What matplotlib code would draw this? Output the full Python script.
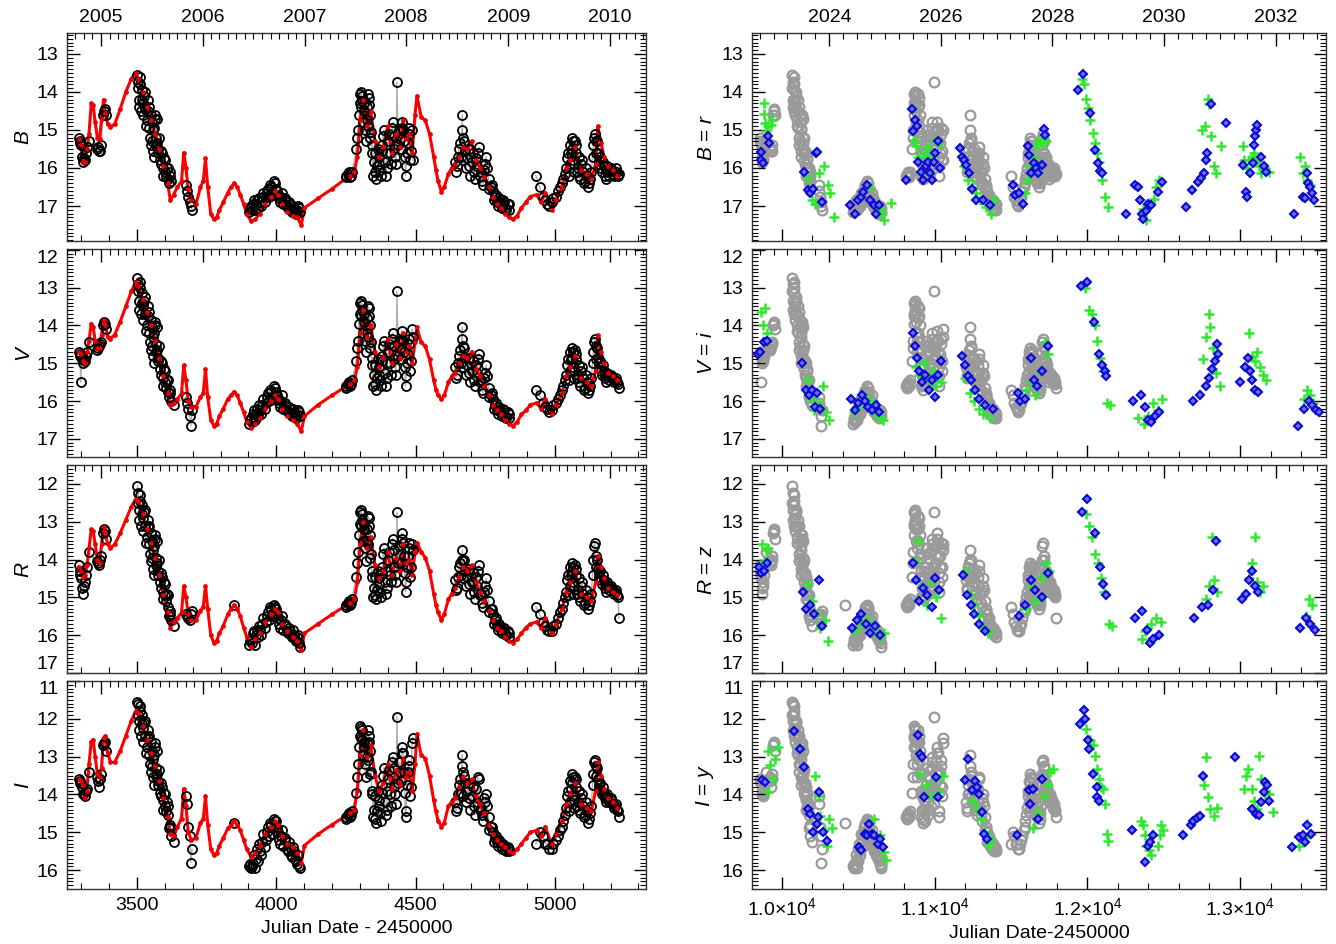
import numpy as np
import matplotlib
matplotlib.use("Agg")
import matplotlib.pyplot as plt
from matplotlib.ticker import MultipleLocator, FixedLocator, FixedFormatter, NullFormatter

plt.rcParams['font.family'] = ['Liberation Sans', 'DejaVu Sans']
plt.rcParams['mathtext.fontset'] = 'custom'
plt.rcParams['mathtext.rm'] = 'Liberation Sans'
plt.rcParams['mathtext.it'] = 'Liberation Sans:italic'

nan = np.nan

# ---------------- model light curve (red) : JD-2450000 and magnitudes ----------------
model_jd = [3291, 3298, 3306, 3313, 3321, 3328, 3336, 3343, 3350, 3358, 3366, 3373, 3380, 3387, 3395, 3405,
            3420, 3440, 3460, 3480, 3495, 3505, 3520, 3535, 3550, 3565, 3580, 3595, 3610, 3620, 3632, 3645,
            3660, 3668, 3676, 3684, 3695, 3712, 3728, 3738, 3746, 3754, 3765, 3776, 3796, 3826, 3849, 3871,
            3894, 3910, 3925, 3940, 3960, 3980, 3995, 4007, 4020, 4040, 4060, 4075, 4090, 4101, 4150, 4200,
            4264, 4280, 4291, 4301, 4312, 4324, 4339, 4354, 4369, 4384, 4400, 4415, 4430, 4445, 4455, 4465,
            4475, 4488, 4498, 4505, 4520, 4535, 4550, 4565, 4581, 4593, 4603, 4618, 4641, 4656, 4671, 4686,
            4701, 4716, 4731, 4746, 4762, 4777, 4792, 4807, 4822, 4837, 4850, 4880, 4912, 4935, 4950, 4965,
            4988, 5003, 5026, 5041, 5056, 5071, 5094, 5116, 5131, 5146, 5154, 5166, 5176, 5191, 5207, 5222,
            3786, 3810, 3838, 3860, 3883, 4865, 4896, 4573, 4630]
model_B = [15.25, 15.40, 15.85, 15.85, 15.50, 15.10, 14.30, 14.35, 14.80, 15.20, 15.25, 14.70, 14.20, 14.55, 14.85, 14.92,
           14.85, 14.45, 14.00, 13.65, 13.50, 13.65, 14.00, 14.40, 14.75, 15.10, 15.50, 15.95, 16.40, 16.85, 16.70, 16.50,
           16.35, 15.60, 16.00, 16.55, 16.85, 16.95, 16.50, 16.35, 15.75, 16.50, 17.20, 17.35, 17.10, 16.65, 16.40, 16.70,
           17.20, 17.40, 17.35, 17.20, 16.95, 16.75, 16.60, 16.70, 16.95, 17.15, 17.25, 17.30, 17.50, 17.05, 16.80, 16.55,
           16.20, 16.10, 15.70, 14.75, 14.20, 14.90, 14.50, 15.30, 15.70, 15.45, 14.90, 15.60, 15.10, 15.45, 14.75, 15.25,
           15.10, 15.60, 14.60, 14.10, 14.65, 14.75, 15.10, 15.70, 16.35, 16.63, 16.50, 16.15, 15.90, 15.70, 15.45, 15.50,
           15.30, 15.80, 16.00, 16.25, 16.50, 16.75, 16.95, 17.05, 17.20, 17.30, 17.35, 17.05, 16.75, 16.70, 16.90, 16.65,
           17.10, 16.85, 16.50, 16.00, 15.80, 15.45, 16.05, 16.15, 16.30, 15.90, 14.90, 15.35, 15.70, 15.95, 16.05, 16.20,
           17.30, 16.90, 16.50, 16.50, 16.95, 17.25, 16.90, 16.05, 16.00]
model_V = [14.70, 14.75, 14.95, 15.00, 14.70, 14.40, 13.95, 14.05, 14.40, 14.60, 14.60, 14.25, 13.85, 14.00, 14.30, 14.35,
           14.25, 13.90, 13.50, 13.10, 12.85, 12.95, 13.30, 13.65, 14.00, 14.40, 14.85, 15.35, 15.80, 16.10, 16.05, 15.95,
           15.80, 15.05, 15.45, 16.00, 16.15, 16.15, 15.90, 15.80, 15.15, 15.90, 16.50, 16.65, 16.40, 15.95, 15.75, 16.05,
           16.55, 16.70, 16.60, 16.45, 16.20, 16.00, 15.85, 15.95, 16.20, 16.40, 16.50, 16.60, 16.80, 16.40, 16.10, 15.85,
           15.55, 15.45, 15.10, 14.20, 13.60, 14.30, 14.00, 14.70, 15.10, 14.85, 14.35, 15.00, 14.50, 14.85, 14.20, 14.70,
           14.55, 15.00, 14.45, 14.05, 14.45, 14.55, 14.90, 15.45, 15.85, 15.95, 15.85, 15.50, 15.25, 15.00, 14.80, 14.85,
           14.70, 15.15, 15.35, 15.60, 15.85, 16.10, 16.25, 16.35, 16.50, 16.60, 16.65, 16.35, 16.10, 16.05, 16.20, 15.95,
           16.35, 16.10, 15.80, 15.35, 15.10, 14.80, 15.40, 15.50, 15.60, 15.20, 14.25, 14.70, 15.00, 15.25, 15.35, 15.45,
           16.60, 16.20, 15.85, 15.85, 16.30, 16.55, 16.25, 15.70, 15.35]
model_R = [14.20, 14.30, 14.45, 14.40, 14.15, 13.70, 13.20, 13.25, 13.60, 14.00, 14.10, 13.60, 13.15, 13.30, 13.60, 13.70,
           13.60, 13.30, 12.95, 12.60, 12.40, 12.45, 12.80, 13.20, 13.55, 13.95, 14.40, 14.95, 15.40, 15.80, 15.65, 15.55,
           15.40, 14.70, 15.00, 15.45, 15.60, 15.60, 15.35, 15.25, 14.70, 15.30, 16.00, 16.20, 15.95, 15.45, 15.20, 15.50,
           16.05, 16.30, 16.10, 15.95, 15.65, 15.45, 15.30, 15.40, 15.70, 15.90, 16.05, 16.15, 16.40, 15.95, 15.70, 15.45,
           15.15, 15.05, 14.60, 13.60, 13.00, 13.70, 13.40, 14.15, 14.50, 14.30, 13.80, 14.40, 13.95, 14.30, 13.60, 14.10,
           14.00, 14.40, 13.80, 13.55, 13.80, 13.95, 14.30, 14.90, 15.40, 15.60, 15.45, 15.05, 14.75, 14.45, 14.20, 14.30,
           14.15, 14.60, 14.85, 15.10, 15.35, 15.60, 15.80, 15.90, 16.05, 16.15, 16.20, 15.95, 15.70, 15.65, 15.80, 15.55,
           15.95, 15.70, 15.30, 14.85, 14.60, 14.30, 14.90, 15.00, 15.10, 14.60, 13.90, 14.20, 14.50, 14.75, 14.85, 14.95,
           16.15, 15.75, 15.30, 15.30, 15.80, 16.10, 15.80, 15.20, 14.90]
model_I = [13.60, 13.65, 13.75, 14.10, 13.90, 13.20, 12.60, 12.55, 13.00, 13.45, 13.55, 13.30, 12.50, 12.45, 12.90, 13.15,
           13.15, 12.85, 12.45, 12.05, 11.80, 11.85, 12.20, 12.55, 12.90, 13.25, 13.65, 14.10, 14.60, 15.05, 15.10, 14.85,
           14.65, 13.85, 14.30, 15.00, 15.20, 15.15, 14.75, 14.65, 14.05, 14.80, 15.45, 15.60, 15.35, 14.90, 14.70, 14.95,
           15.45, 15.65, 15.55, 15.35, 15.05, 14.85, 14.70, 14.80, 15.10, 15.30, 15.40, 15.55, 15.80, 15.35, 15.05, 14.80,
           14.50, 14.40, 13.90, 12.95, 12.30, 13.00, 12.70, 13.50, 13.90, 13.70, 13.20, 13.85, 13.35, 13.75, 13.05, 13.55,
           13.40, 13.90, 13.20, 12.40, 12.95, 13.05, 13.50, 14.15, 14.70, 14.85, 14.75, 14.30, 14.10, 13.80, 13.55, 13.70,
           13.60, 14.05, 14.25, 14.50, 14.80, 15.05, 15.20, 15.30, 15.40, 15.50, 15.55, 15.30, 15.00, 14.95, 15.10, 14.85,
           15.30, 15.05, 14.70, 14.25, 14.00, 13.70, 14.25, 14.35, 14.45, 13.90, 13.15, 13.50, 13.85, 14.10, 14.20, 14.35,
           15.55, 15.15, 14.80, 14.80, 15.20, 15.45, 15.15, 14.45, 14.20]

# ---------------- observed light curve (black circles, grey on the right) ----------------
obs_jd = [3291, 3294, 3298, 3302, 3306, 3313, 3320, 3328,
          3356, 3363, 3371, 3378, 3384, 3389,
          3502, 3505, 3509, 3512, 3517, 3520, 3525, 3530, 3535, 3540, 3543, 3547, 3551, 3555, 3558, 3562,
          3566, 3570, 3573, 3577, 3582, 3587, 3592, 3597, 3602, 3607, 3612, 3617, 3622, 3632,
          3675, 3680, 3683, 3690, 3694, 3698,
          3849,
          3902, 3909, 3917, 3924, 3932, 3939, 3947, 3954, 3962, 3970, 3977, 3985, 3992, 4000, 4007, 4015,
          4022, 4030, 4037, 4045, 4053, 4060, 4068, 4075, 4083,
          4249, 4256, 4264, 4272, 4287, 4291, 4297, 4301, 4305, 4309, 4314, 4318, 4324, 4328, 4332, 4336,
          4341, 4345, 4350, 4356, 4361, 4367, 4373, 4378, 4384, 4390, 4396, 4402, 4408, 4415, 4421, 4427,
          4433, 4438, 4444, 4450, 4456, 4461, 4466, 4472, 4478, 4484, 4490,
          4641, 4648, 4656, 4663, 4668, 4672, 4678, 4686, 4693, 4701, 4708, 4716, 4723, 4731, 4738, 4746,
          4753, 4762, 4769, 4777, 4785, 4792, 4800, 4807, 4815, 4822, 4830, 4837,
          4932, 4958, 4973, 4988, 5003, 5018, 5030, 5041, 5048, 5053, 5056, 5060, 5064, 5068, 5071, 5076,
          5082, 5088, 5094, 5101, 5108, 5116, 5124, 5131, 5138, 5143, 5148, 5154, 5160, 5166, 5172, 5179,
          5185, 5191, 5200, 5207, 5215, 5222, 5230]
obs_B = [15.20, 15.30, 15.40, 15.70, 15.85, 15.80, 15.45, 15.30,
         15.50, 15.55, 15.40, 14.60, 14.45, 14.60,
         13.55, 13.75, 14.20, 13.60, 13.95, 14.30, 14.10, 14.45, 14.75, 14.20, 14.95, 15.20, 14.60, 15.30, 15.55, 14.95,
         14.60, 15.20, 15.35, 15.60, 15.80, 15.55, 16.00, 15.75, 16.10, 16.00, 16.30, 16.20, 16.35, nan,
         16.45, 16.60, 16.75, 16.90, 17.00, 17.10,
         nan,
         17.15, 17.00, 16.95, 17.10, 16.85, 16.80, 17.00, 16.65, 16.75, 16.55, 16.45, 16.65, 16.35, 16.55, 16.70, 16.90,
         16.65, 16.85, 17.00, 16.90, 17.10, 17.00, 17.15, 17.10, 17.05,
         16.20, 16.15, 16.25, 16.10, 15.50, 15.20, 14.60, 14.05, 14.00, 14.25, 14.50, 15.00, 14.75, 14.05, 14.15, 14.60,
         15.05, 15.40, 15.85, 16.10, 15.95, 15.70, 16.05, 15.55, 15.15, 15.85, 16.00, 15.30, 15.60, 14.95, 15.15, 15.70,
         13.75, 15.40, 15.25, 14.80, 15.00, 15.70, 15.95, 15.35, 15.10, 15.55, 15.80,
         15.85, 15.95, 15.50, 15.70, 14.60, 15.20, 15.55, 15.75, 15.95, 15.85, 16.10, 15.75, 15.60, 16.20, 16.35, 16.05,
         15.70, 16.30, 16.50, 16.60, 16.75, 16.90, 16.80, 16.95, 16.85, 17.05, 16.95, 17.10,
         16.20, 16.75, 16.95, 16.90, 16.75, 16.50, 16.30, 16.00, 15.60, 15.90, 15.40, 15.20, 15.80, 16.10, 15.30, 15.60,
         16.00, 16.20, 15.90, 16.10, 16.35, 16.20, 16.40, 16.10, 15.40, 15.10, 15.30, 15.60, 15.90, 16.00, 15.85, 16.20,
         16.05, 16.10, 16.00, 16.15, 16.10, 16.10, 16.15]
obs_V = [14.70, 14.75, 15.50, 14.90, 15.00, 14.95, 14.70, 14.45,
         14.65, 14.55, 14.45, 14.00, 13.95, 14.10,
         12.75, 12.90, 13.35, 12.85, 13.15, 13.50, 13.35, 13.70, 14.00, 13.50, 14.20, 14.45, 13.85, 14.55, 14.80, 14.20,
         13.90, 14.50, 14.65, 14.95, 15.15, 14.95, 15.40, 15.15, 15.50, 15.45, 15.75, 15.80, 16.00, 16.10,
         15.90, 16.05, 16.20, 16.40, 16.65, 16.25,
         nan,
         16.60, 16.45, 16.35, 16.50, 16.20, 16.10, 16.35, 15.95, 16.05, 15.80, 15.70, 15.90, 15.60, 15.75, 15.95, 16.15,
         15.85, 16.10, 16.25, 16.15, 16.35, 16.20, 16.40, 16.35, 16.30,
         15.60, 15.55, 15.60, 15.45, 14.95, 14.60, 13.95, 13.40, 13.35, 13.60, 13.90, 14.40, 14.20, 13.50, 13.55, 14.00,
         14.45, 14.85, 15.30, 15.55, 15.40, 15.10, 15.45, 14.95, 14.55, 15.25, 15.40, 14.70, 15.00, 14.35, 14.55, 15.10,
         13.10, 14.80, 14.60, 14.15, 14.40, 15.10, 15.35, 14.75, 14.50, 14.95, 14.30,
         15.10, 15.30, 14.80, 15.00, 14.05, 14.55, 14.85, 15.05, 15.25, 15.20, 15.45, 15.05, 14.90, 15.50, 15.70, 15.40,
         15.05, 15.65, 15.85, 15.95, 16.10, 16.25, 16.15, 16.30, 16.20, 16.40, 16.30, 16.45,
         15.70, 16.05, 16.20, 16.25, 16.05, 15.85, 15.60, 15.30, 14.90, 15.20, 14.70, 14.60, 15.10, 15.40, 14.65, 14.90,
         15.30, 15.50, 15.20, 15.40, 15.65, 15.50, 15.70, 15.40, 14.70, 14.35, 14.55, 14.85, 15.10, 15.20, 15.05, 15.40,
         15.30, 15.35, 15.30, 15.40, 15.45, 15.50, 15.65]
obs_R = [14.15, 14.30, 14.50, 14.75, 14.90, 14.60, 14.20, 13.80,
         14.05, 14.15, 13.90, 13.30, 13.25, 13.45,
         12.05, 12.25, 12.70, 12.30, 12.55, 12.90, 12.75, 13.10, 13.40, 12.95, 13.60, 13.85, 13.30, 13.95, 14.25, 13.65,
         13.35, 13.95, 14.10, 14.40, 14.60, 14.35, 14.85, 14.60, 14.95, 14.90, 15.25, 15.45, 15.60, 15.75,
         15.45, 15.50, 15.55, 15.60, 15.45, 15.35,
         15.20,
         16.25, 16.10, 15.95, 16.25, 15.85, 15.75, 16.00, 15.55, 15.65, 15.40, 15.25, 15.45, 15.20, 15.30, 15.55, 15.80,
         15.50, 15.75, 15.90, 15.80, 16.00, 15.85, 16.10, 16.05, 16.20,
         15.20, 15.15, 15.20, 15.05, 14.45, 14.10, 13.35, 12.75, 12.70, 12.95, 13.20, 13.70, 13.50, 12.85, 12.90, 13.35,
         13.85, 14.30, 14.75, 14.95, 14.80, 14.50, 14.85, 14.35, 13.85, 14.60, 14.75, 14.00, 14.40, 13.60, 13.75, 14.40,
         12.75, 14.10, 13.85, 13.30, 13.55, 14.35, 14.60, 13.90, 13.70, 14.20, 13.75,
         14.55, 14.75, 14.20, 14.40, 13.75, 14.05, 14.30, 14.45, 14.65, 14.60, 14.85, 14.45, 14.30, 14.95, 15.15, 14.85,
         14.50, 15.10, 15.30, 15.45, 15.60, 15.75, 15.70, 15.85, 15.80, 15.95, 15.90, 16.05,
         15.25, 15.65, 15.85, 15.90, 15.70, 15.40, 15.15, 14.85, 14.40, 14.70, 14.20, 14.10, 14.60, 14.90, 14.15, 14.40,
         14.80, 15.00, 14.70, 14.90, 15.15, 15.00, 15.20, 14.90, 14.00, 13.55, 13.90, 14.25, 14.45, 14.55, 14.40, 14.75,
         14.65, 14.70, 14.70, 14.80, 14.85, 14.95, 15.55]
obs_I = [13.60, 13.65, 13.70, 13.80, 14.00, 14.05, 13.85, 13.40,
         13.55, 13.80, 13.45, 12.70, 12.60, 12.85,
         11.55, 11.60, 12.05, 11.65, 11.90, 12.25, 12.10, 12.45, 12.75, 12.30, 12.95, 13.20, 12.60, 13.25, 13.55, 12.95,
         12.65, 13.30, 13.45, 13.75, 13.95, 13.70, 14.15, 13.95, 14.30, 14.20, 14.55, 14.85, 15.10, 15.25,
         14.05, 14.25, 14.85, 15.10, 15.80, 15.45,
         14.75,
         15.90, 15.95, 15.85, 15.95, 15.45, 15.30, 15.60, 15.05, 15.20, 14.85, 14.75, 15.05, 14.65, 14.70, 15.00, 15.30,
         14.95, 15.20, 15.45, 15.25, 15.60, 15.40, 15.70, 15.85, 15.90,
         14.60, 14.55, 14.60, 14.45, 13.95, 13.55, 12.75, 12.20, 12.25, 12.55, 12.75, 13.20, 13.00, 12.30, 12.45, 12.85,
         13.40, 13.90, 14.40, 14.65, 14.45, 14.15, 14.50, 13.95, 13.50, 14.20, 14.40, 13.60, 14.00, 13.15, 13.30, 14.00,
         11.95, 13.70, 13.40, 12.75, 12.90, 13.95, 14.45, 13.40, 13.25, 13.80, 12.50,
         14.20, 14.35, 13.75, 13.95, 12.95, 13.40, 13.70, 13.90, 14.10, 14.05, 14.30, 13.85, 13.55, 14.40, 14.55, 14.10,
         14.00, 14.60, 14.85, 15.00, 15.15, 15.25, 15.20, 15.35, 15.30, 15.45, 15.40, 15.50,
         15.30, 15.10, 15.30, 15.45, 15.20, 14.95, 14.70, 14.35, 13.90, 14.20, 13.65, 13.45, 14.05, 14.35, 13.55, 13.80,
         14.20, 14.40, 14.10, 14.30, 14.55, 14.45, 14.65, 14.30, 13.45, 13.10, 13.25, 13.60, 13.85, 13.90, 13.80, 14.10,
         14.05, 14.15, 14.10, 14.25, 14.30, 14.40, 14.60]

# additional nights of the same light curve (denser coverage)
obs2_jd = [3296, 3309, 3317, 3359, 3367, 3381,
           3503, 3507, 3511, 3515, 3518, 3523, 3528, 3533, 3538, 3545, 3549, 3553, 3557, 3560, 3564, 3568, 3572, 3575,
           3580, 3585, 3590, 3595, 3600, 3605, 3610, 3615, 3620,
           3905, 3913, 3920, 3928, 3935, 3943, 3950, 3958, 3966, 3973, 3981, 3988, 3996, 4003, 4011, 4018, 4026, 4033,
           4041, 4049, 4056, 4064, 4071, 4079, 4087,
           4252, 4260, 4268, 4293, 4299, 4303, 4307, 4311, 4316, 4321, 4326, 4330, 4334, 4338, 4343, 4347, 4353, 4358,
           4364, 4370, 4375, 4381, 4387, 4393, 4399, 4405, 4411, 4418, 4424, 4430, 4441, 4447, 4453, 4459, 4464, 4469,
           4475, 4481, 4487,
           4644, 4652, 4660, 4666, 4670, 4675, 4682, 4690, 4697, 4705, 4712, 4720, 4727, 4735, 4742, 4750, 4757, 4765,
           4773, 4781, 4789, 4796, 4804, 4811, 4818, 4826, 4834,
           4945, 4965, 4980, 4995, 5010, 5024, 5035, 5045, 5051, 5058, 5062, 5066, 5070, 5074, 5079, 5085, 5091, 5098,
           5104, 5112, 5120, 5127, 5135, 5141, 5146, 5151, 5157, 5163, 5169, 5176, 5182, 5188, 5195, 5203, 5211, 5218,
           5226]
obs2_B = [15.35, 15.75, 15.60, 15.45, 15.55, 14.50,
          13.90, 14.40, 13.80, 14.50, 14.20, 14.60, 14.00, 14.90, 14.50, 14.40, 15.40, 14.80, 15.00, 15.70, 14.70, 15.40,
          14.70, 15.50, 15.20, 15.90, 15.60, 16.20, 15.80, 16.25, 16.00, 16.40, 16.10,
          17.05, 17.10, 16.85, 16.95, 17.05, 16.90, 16.75, 16.90, 16.60, 16.75, 16.50, 16.70, 16.40, 16.60, 16.80, 16.75,
          16.95, 16.80, 17.05, 16.95, 17.15, 17.05, 17.20, 17.00, 17.15,
          16.25, 16.10, 16.20, 15.00, 14.30, 14.40, 14.10, 14.80, 14.30, 15.30, 14.40, 14.90, 14.35, 15.20, 15.60, 16.20,
          15.60, 16.30, 15.50, 15.90, 16.20, 15.40, 15.00, 16.20, 15.60, 15.10, 15.90, 14.80, 15.50, 15.90, 15.00, 15.50,
          14.95, 15.30, 16.20, 15.60, 14.95, 15.80, 15.00,
          16.10, 15.70, 15.35, 15.00, 15.80, 15.30, 16.00, 15.50, 16.20, 15.60, 16.30, 15.95, 15.45, 16.10, 16.45, 15.90,
          16.00, 16.55, 16.45, 16.85, 16.70, 17.00, 16.85, 17.05, 16.90, 17.10, 16.95,
          16.50, 16.85, 17.00, 16.80, 16.60, 16.40, 16.15, 15.75, 16.20, 15.60, 15.50, 15.30, 15.90, 15.40, 16.10, 15.70,
          16.30, 15.80, 16.40, 16.00, 16.50, 16.30, 15.70, 15.20, 15.60, 15.30, 15.80, 15.70, 16.10, 15.95, 16.30, 15.95,
          16.20, 16.05, 16.20, 16.00, 16.20]
obs2_V = [14.80, 14.90, 14.80, 14.60, 14.50, 13.90,
          13.10, 13.60, 13.00, 13.70, 13.40, 13.85, 13.25, 14.15, 13.75, 13.65, 14.65, 14.05, 14.30, 15.00, 14.00, 14.70,
          14.05, 14.85, 14.55, 15.30, 15.00, 15.60, 15.20, 15.65, 15.45, 15.90, 15.70,
          16.50, 16.55, 16.25, 16.35, 16.40, 16.25, 16.10, 16.20, 15.90, 16.00, 15.75, 15.95, 15.65, 15.85, 16.05, 16.00,
          16.20, 16.05, 16.30, 16.20, 16.40, 16.30, 16.45, 16.25, 16.40,
          15.65, 15.50, 15.55, 14.40, 13.70, 13.75, 13.45, 14.20, 13.70, 14.70, 13.80, 14.30, 13.75, 14.60, 15.05, 15.60,
          15.05, 15.70, 14.90, 15.30, 15.60, 14.80, 14.40, 15.60, 15.00, 14.50, 15.30, 14.20, 14.90, 15.30, 14.40, 14.90,
          14.35, 14.70, 15.60, 15.00, 14.35, 15.20, 14.10,
          15.40, 15.00, 14.65, 14.35, 15.10, 14.60, 15.30, 14.85, 15.50, 14.95, 15.60, 15.25, 14.75, 15.45, 15.80, 15.25,
          15.35, 15.90, 15.80, 16.20, 16.05, 16.35, 16.20, 16.40, 16.25, 16.45, 16.35,
          15.85, 16.15, 16.30, 16.10, 15.95, 15.70, 15.45, 15.05, 15.45, 14.90, 14.85, 14.70, 15.20, 14.75, 15.40, 15.05,
          15.60, 15.10, 15.70, 15.30, 15.80, 15.60, 15.00, 14.45, 14.90, 14.60, 15.00, 14.95, 15.30, 15.20, 15.50, 15.25,
          15.45, 15.35, 15.50, 15.40, 15.55]
obs2_R = [14.40, 14.70, 14.40, 14.10, 14.00, 13.20,
          12.50, 12.95, 12.45, 13.10, 12.80, 13.25, 12.70, 13.55, 13.15, 13.10, 14.05, 13.50, 13.75, 14.40, 13.45, 14.15,
          13.50, 14.30, 14.00, 14.75, 14.45, 15.05, 14.65, 15.10, 14.95, 15.50, 15.35,
          16.15, 16.20, 15.90, 16.00, 16.05, 15.85, 15.70, 15.80, 15.50, 15.60, 15.30, 15.50, 15.25, 15.45, 15.70, 15.60,
          15.85, 15.70, 15.95, 15.90, 16.05, 16.00, 16.15, 16.00, 16.30,
          15.25, 15.10, 15.15, 13.80, 13.05, 13.10, 12.80, 13.50, 13.05, 14.05, 13.20, 13.60, 13.10, 13.95, 14.45, 15.00,
          14.45, 15.05, 14.30, 14.65, 15.00, 14.20, 13.70, 14.90, 14.30, 13.80, 14.60, 13.45, 14.20, 14.60, 13.65, 14.10,
          13.45, 13.90, 14.85, 14.20, 13.55, 14.45, 13.60,
          14.80, 14.45, 14.10, 14.00, 14.50, 14.00, 14.70, 14.25, 14.90, 14.35, 15.05, 14.70, 14.15, 14.90, 15.25, 14.70,
          14.80, 15.40, 15.30, 15.70, 15.55, 15.85, 15.75, 15.95, 15.80, 16.00, 15.95,
          15.45, 15.75, 15.90, 15.75, 15.55, 15.30, 15.00, 14.55, 14.95, 14.40, 14.30, 14.20, 14.70, 14.25, 14.90, 14.50,
          15.10, 14.60, 15.20, 14.80, 15.30, 15.10, 14.40, 13.65, 14.20, 14.00, 14.35, 14.30, 14.65, 14.55, 14.85, 14.60,
          14.80, 14.75, 14.90, 14.80, 15.00]
obs2_I = [13.70, 13.95, 13.90, 13.65, 13.60, 12.65,
          11.90, 12.30, 11.80, 12.45, 12.15, 12.60, 12.05, 12.90, 12.50, 12.45, 13.40, 12.85, 13.05, 13.75, 12.75, 13.50,
          12.85, 13.65, 13.35, 14.05, 13.80, 14.40, 14.00, 14.45, 14.30, 14.90, 14.80,
          15.85, 15.90, 15.60, 15.70, 15.75, 15.50, 15.25, 15.40, 15.00, 15.10, 14.80, 15.05, 14.70, 14.90, 15.20, 15.10,
          15.35, 15.15, 15.50, 15.40, 15.65, 15.50, 15.75, 15.60, 15.95,
          14.65, 14.50, 14.55, 13.20, 12.45, 12.50, 12.30, 12.95, 12.60, 13.55, 12.65, 13.10, 12.60, 13.45, 14.00, 14.60,
          14.05, 14.75, 13.90, 14.30, 14.70, 13.75, 13.30, 14.55, 13.90, 13.35, 14.30, 13.00, 13.80, 14.25, 13.15, 13.65,
          12.90, 13.40, 14.60, 13.75, 13.10, 14.05, 12.65,
          14.45, 14.00, 13.60, 13.25, 14.05, 13.50, 14.20, 13.70, 14.40, 13.80, 14.55, 14.20, 13.60, 14.35, 14.70, 14.20,
          14.30, 14.95, 14.85, 15.25, 15.10, 15.35, 15.25, 15.45, 15.35, 15.50, 15.45,
          15.00, 15.30, 15.45, 15.30, 15.10, 14.85, 14.55, 14.05, 14.45, 13.85, 13.70, 13.55, 14.15, 13.60, 14.30, 13.90,
          14.50, 14.00, 14.60, 14.20, 14.75, 14.50, 13.75, 13.15, 13.50, 13.30, 13.75, 13.70, 14.00, 13.95, 14.20, 14.00,
          14.20, 14.15, 14.35, 14.25, 14.45]

# time shift applied to the old light curve in the right-hand panels (days)
shift_days = 6565

# ---------------- new data (right panels): blue diamonds and green crosses ----------------
blue_r_jd = [9860, 9865, 9874, 9907, 9915, 10143, 10171, 10185, 10204, 10221, 10232, 10260,
             10449, 10477, 10499, 10519, 10532, 10555, 10574, 10602, 10616, 10635,
             10810, 10852, 10860, 10872, 10885, 10894, 10910, 10927, 10941, 10958, 10972, 10983, 10994, 11005, 11024, 11038,
             11163, 11177, 11191, 11208, 11227, 11247, 11269, 11316, 11361,
             11511, 11525, 11550, 11578, 11611, 11619, 11633, 11650, 11667, 11678, 11700, 11717, 11725,
             11936, 11972, 12020, 12048, 12067, 12084, 12095,
             12256, 12312, 12334, 12345, 12359, 12367, 12381, 12395, 12414, 12465, 12487,
             12645, 12687, 12723, 12743, 12762, 12776, 12784, 12812,
             12909, 13020, 13040, 13048, 13068, 13085, 13090, 13096, 13104, 13110, 13140, 13154, 13170,
             13354, 13410, 13424, 13437, 13446, 13457, 13471, 13487]
blue_r = [15.57, 15.79, 15.86, 15.17, 15.35, 16.10, 16.58, 16.67, 16.54, 15.61, 15.57, 16.90,
          16.98, 17.20, 16.85, 16.76, 16.63, 16.45, 16.85, 16.98, 17.20, 16.98,
          16.32, 14.46, 15.04, 14.73, 14.90, 15.83, 16.10, 16.32, 15.96, 15.83, 16.14, 16.32, 15.83, 15.61, 15.30, 16.00,
          15.48, 15.70, 15.80, 15.92, 16.14, 16.54, 16.85, 16.85, 16.98,
          16.45, 16.72, 16.65, 16.96, 15.42, 15.65, 16.14, 15.88, 16.00, 16.14, 15.92, 14.97, 15.12,
          13.95, 13.53, 14.55, 15.52, 15.88, 16.07, 16.14,
          17.20, 16.45, 16.50, 16.85, 17.20, 17.34, 17.12, 16.94, 16.98, 16.63, 16.36,
          17.03, 16.58, 16.36, 16.27, 16.14, 15.79, 15.61, 14.33,
          14.81, 15.92, 16.63, 16.76, 16.14, 15.88, 15.39, 15.17, 14.99, 14.86, 15.70, 15.96, 16.10,
          17.20, 16.76, 16.80, 16.14, 16.40, 16.50, 16.67, 16.85]
green_r_jd = [9882, 9882, 9887, 9896, 9910, 9926, 9935,
              10171, 10199, 10215, 10243, 10277, 10299, 10318, 10338,
              10574, 10644, 10658, 10671, 10713,
              10866, 10880, 10894, 10913, 10935, 10955, 10972, 11011, 11033,
              11191, 11216, 11244, 11272, 11300, 11339, 11367, 11389,
              11589, 11605, 11622, 11644, 11667, 11686, 11706, 11728,
              11964, 11978, 11992, 12003, 12020, 12034, 12048, 12061, 12078, 12095, 12117, 12134,
              12367, 12386, 12409, 12437, 12451, 12467,
              12751, 12770, 12787, 12798, 12812, 12831, 12840, 12873,
              13020, 13029, 13048, 13062, 13076, 13090, 13107, 13123, 13140, 13160, 13187,
              13396, 13410, 13424, 13438, 13457]
green_r = [14.28, 14.59, 14.81, 15.04, 14.90, 14.86, 14.73,
           16.27, 16.85, 16.96, 16.14, 15.96, 16.45, 16.67, 17.29,
           16.50, 17.07, 17.20, 17.38, 16.92,
           15.26, 15.43, 15.70, 16.14, 15.61, 15.43, 15.70, 15.26, 15.35,
           15.96, 16.32, 16.50, 16.67, 16.85, 17.03, 17.20, 16.85,
           16.67, 16.32, 15.96, 15.70, 15.43, 15.26, 15.35, 15.30,
           13.66, 13.80, 14.19, 14.42, 14.73, 15.08, 15.35, 15.61, 15.83, 16.32, 16.76, 17.03,
           17.07, 17.38, 16.96, 16.81, 16.50, 16.32,
           15.01, 14.90, 14.19, 14.33, 15.17, 15.96, 16.14, 15.43,
           15.43, 15.79, 16.01, 15.79, 15.70, 15.61, 15.79, 15.96, 16.14, 16.01, 16.10,
           15.70, 16.14, 15.96, 16.32, 16.45]

blue_i_jd = [9845, 9858, 9880, 9900,
             10130, 10160, 10175, 10195, 10215, 10230, 10250,
             10455, 10480, 10500, 10525, 10545, 10565, 10590, 10615, 10635,
             10860, 10872, 10885, 10900, 10920, 10940, 10960, 10980, 11000, 11020, 11040,
             11180, 11200, 11220, 11240, 11265, 11290, 11330, 11380,
             11545, 11560, 11590, 11630, 11650, 11670, 11700, 11740,
             11960, 11995, 12045, 12075, 12095, 12115, 12125,
             12300, 12350, 12380, 12400, 12420, 12445, 12470,
             12690, 12740, 12780, 12800, 12815, 12835, 12848, 12855,
             13000, 13030, 13050, 13065, 13080, 13100, 13120,
             13380, 13420, 13450, 13470, 13495, 13515]
blue_i = [14.75, 14.70, 14.45, 14.40,
          15.00, 15.70, 15.85, 15.70, 16.15, 15.80, 16.20,
          15.95, 16.25, 16.05, 15.85, 16.00, 16.15, 16.25, 16.10, 16.30,
          14.20, 14.55, 14.85, 15.20, 15.50, 15.30, 15.70, 15.45, 15.90, 15.30, 14.95,
          14.80, 15.05, 15.35, 15.45, 15.70, 15.95, 16.10, 16.20,
          15.80, 16.00, 15.95, 14.85, 15.45, 15.60, 15.20, 14.55,
          12.95, 12.85, 13.90, 14.75, 15.05, 15.20, 15.35,
          16.00, 15.85, 16.15, 16.50, 16.55, 16.40, 16.30,
          16.00, 15.85, 15.60, 15.40, 15.15, 14.95, 14.50, 14.75,
          15.50, 15.10, 14.85, 15.20, 15.45, 15.70, 15.75,
          16.65, 16.20, 16.00, 16.10, 16.25, 16.30]
green_i_jd = [9865, 9875, 9890, 9905,
              10170, 10190, 10210, 10240, 10270, 10290, 10310,
              10470, 10500, 10540, 10575, 10610, 10640, 10665,
              10875, 10895, 10930, 10960, 10990, 11010, 11040,
              11200, 11230, 11260, 11290, 11320, 11360,
              11600, 11630, 11660, 11690, 11720, 11745,
              11985, 12010, 12030, 12050, 12065, 12085, 12100, 12130, 12150,
              12330, 12370, 12400, 12430, 12460, 12490,
              12760, 12780, 12795, 12805, 12825, 12845, 12870,
              13060, 13080, 13095, 13110, 13130, 13150, 13170,
              13420, 13440, 13460, 13480]
green_i = [13.65, 14.00, 13.55, 14.20,
           15.45, 15.95, 16.25, 16.05, 15.60, 16.30, 16.50,
           16.30, 16.15, 15.90, 16.00, 16.35, 16.45, 16.50,
           15.10, 15.30, 15.00, 15.45, 15.20, 15.60, 15.50,
           15.40, 15.80, 16.00, 16.20, 16.35, 16.45,
           15.70, 15.50, 15.85, 15.20, 14.45, 14.75,
           13.00, 13.60, 13.70, 14.00, 14.40, 14.85, 15.20, 16.05, 16.10,
           16.45, 16.60, 16.40, 16.05, 16.25, 15.95,
           14.90, 14.30, 13.70, 14.05, 14.60, 15.25, 15.60,
           14.20, 14.80, 14.95, 14.70, 15.10, 15.30, 15.45,
           15.95, 15.70, 15.85, 16.05]

blue_z_jd = [9850, 9860, 9880, 9905,
             10135, 10160, 10185, 10210, 10240, 10265,
             10460, 10490, 10520, 10550, 10580, 10610, 10640,
             10860, 10880, 10900, 10925, 10950, 10980, 11005, 11030,
             11185, 11210, 11235, 11260, 11290, 11330,
             11555, 11590, 11630, 11660, 11700, 11740,
             11965, 11995, 12050, 12080, 12100, 12120,
             12310, 12360, 12390, 12410, 12430, 12470,
             12700, 12750, 12790, 12820, 12840,
             13010, 13040, 13060, 13080, 13100, 13120,
             13390, 13430, 13460, 13490]
blue_z = [14.20, 14.35, 14.30, 14.10,
          14.85, 15.30, 15.20, 15.45, 14.55, 15.75,
          15.80, 15.60, 15.45, 15.70, 15.95, 15.75, 16.00,
          14.10, 14.55, 15.10, 14.75, 14.95, 15.25, 14.50, 14.80,
          14.40, 14.95, 15.20, 15.45, 15.70, 15.90,
          15.50, 15.20, 14.55, 14.80, 15.00, 14.35,
          12.75, 12.40, 13.30, 14.20, 14.65, 14.95,
          15.55, 15.35, 15.85, 16.20, 16.10, 16.00,
          15.55, 15.25, 15.20, 14.80, 13.50,
          15.05, 14.90, 14.55, 14.30, 14.70, 14.85,
          15.80, 15.55, 15.70, 15.85]
green_z_jd = [9868, 9880, 9895, 9910,
              10170, 10195, 10220, 10250, 10280, 10300,
              10480, 10520, 10560, 10600, 10640, 10670,
              10870, 10890, 10920, 10950, 10980, 11010, 11040,
              11200, 11230, 11260, 11290, 11320, 11350,
              11600, 11630, 11660, 11700, 11730, 11750,
              11990, 12010, 12030, 12050, 12070, 12090, 12110, 12140, 12160,
              12360, 12380, 12420, 12450, 12480,
              12780, 12800, 12815, 12830, 12850,
              13060, 13080, 13095, 13110, 13130, 13150,
              13430, 13450, 13470]
green_z = [13.60, 14.05, 13.75, 13.70,
           14.65, 15.10, 15.45, 15.80, 15.60, 16.15,
           15.90, 15.70, 15.60, 15.85, 16.05, 15.95,
           14.05, 13.50, 14.70, 15.20, 14.60, 15.00, 15.55,
           14.30, 14.90, 15.20, 15.50, 15.80, 15.95,
           15.30, 14.70, 15.10, 14.50, 14.10, 14.30,
           12.80, 13.10, 13.40, 13.85, 14.10, 14.50, 14.85, 15.70, 15.75,
           16.10, 15.90, 15.70, 15.55, 15.65,
           15.05, 14.70, 13.40, 14.55, 14.85,
           14.50, 14.10, 13.40, 14.60, 14.85, 14.70,
           15.50, 15.05, 15.20]

blue_y_jd = [9871, 9890,
             10077, 10118, 10146, 10174, 10187, 10201, 10229, 10237, 10242, 10270, 10292,
             10504, 10518, 10545, 10559, 10573, 10587, 10601, 10628, 10642, 10661,
             10890, 10904, 10917, 10931, 11008, 11019,
             11201, 11220, 11248, 11262, 11276, 11290, 11311, 11322, 11344,
             11537, 11620, 11625, 11647, 11675, 11703,
             11951, 11978, 11984, 12006, 12011, 12039, 12061, 12066, 12075,
             12295, 12378, 12397, 12413, 12432,
             12625, 12680, 12694, 12716, 12736, 12755,
             12970, 13080, 13102, 13121, 13140, 13157, 13163, 13176, 13190,
             13342, 13383, 13410, 13424, 13438, 13466]
blue_y = [13.63, 13.67,
          12.31, 12.79, 13.28, 14.38, 14.51, 15.00, 14.78, 14.60, 13.94, 15.00, 15.22,
          15.39, 15.48, 15.04, 15.08, 14.78, 15.04, 15.08, 15.30, 15.17, 15.39,
          12.44, 12.92, 13.01, 14.07, 13.54, 14.07,
          13.63, 13.06, 13.89, 13.65, 13.81, 14.00, 14.47, 15.04, 15.17,
          15.08, 13.89, 14.25, 13.85, 14.64, 13.59,
          12.13, 11.78, 12.00, 12.57, 12.79, 13.45, 13.80, 14.07, 14.16,
          14.95, 15.79, 15.35, 15.26, 15.08,
          15.08, 14.82, 14.69, 14.63, 14.56, 13.50,
          13.01, 14.38, 14.51, 14.54, 14.20, 13.94, 13.67, 13.75, 14.16,
          15.39, 15.13, 15.08, 15.26, 14.82, 15.04]
green_y_jd = [9906, 9912, 9925, 9939, 9953, 9972,
              10215, 10242, 10248, 10276, 10292, 10311, 10325,
              10601, 10642, 10669, 10683,
              10904, 10945, 10973, 11000, 11028, 11055,
              11248, 11276, 11303, 11331, 11358, 11372,
              11647, 11675, 11717, 11744, 11758, 11772,
              11992, 12020, 12034, 12047, 12061, 12075, 12089, 12102, 12116, 12130, 12138,
              12350, 12364, 12378, 12386, 12405, 12419, 12460, 12474, 12480, 12496,
              12763, 12777, 12791, 12804, 12832, 12846,
              13025, 13039, 13053, 13080, 13094, 13108, 13121, 13135, 13163, 13190, 13218,
              13383, 13410, 13438, 13452]
green_y = [13.94, 12.84, 13.23, 13.59, 13.06, 12.75,
           13.50, 14.03, 14.56, 14.95, 15.35, 14.64, 14.90,
           14.64, 15.08, 15.52, 15.74,
           13.45, 13.76, 14.03, 13.59, 13.94, 13.50,
           14.16, 14.38, 14.64, 15.00, 15.35, 15.17,
           14.90, 14.47, 14.03, 13.76, 13.41, 13.32,
           12.26, 12.57, 12.70, 12.97, 13.32, 13.59, 13.80, 13.85, 14.25, 15.04, 15.22,
           14.69, 14.82, 15.08, 15.35, 15.48, 15.61, 15.35, 15.08, 14.82, 14.95,
           13.76, 13.01, 14.07, 14.38, 14.56, 14.35,
           13.85, 13.50, 13.32, 13.85, 14.16, 14.38, 12.97, 13.59, 13.98, 13.98, 14.47,
           15.35, 15.13, 14.78, 15.04]

# ---------------- panel definitions ----------------
left_names = ['B', 'V', 'R', 'I']
right_names = [('B', 'r'), ('V', 'i'), ('R', 'z'), ('I', 'y')]
models = [model_B, model_V, model_R, model_I]
observations = [obs_B, obs_V, obs_R, obs_I]
observations2 = [obs2_B, obs2_V, obs2_R, obs2_I]
blues = [(blue_r_jd, blue_r), (blue_i_jd, blue_i), (blue_z_jd, blue_z), (blue_y_jd, blue_y)]
greens = [(green_r_jd, green_r), (green_i_jd, green_i), (green_z_jd, green_z), (green_y_jd, green_y)]
ylims = [(17.92, 12.45), (17.48, 11.98), (17.0, 11.5), (16.5, 11.0)]
yticks = [[13, 14, 15, 16, 17], [12, 13, 14, 15, 16, 17], [12, 13, 14, 15, 16, 17], [11, 12, 13, 14, 15, 16]]
edge_va = [{}, {12: 'top'}, {17: 'bottom'}, {11: 'top'}]
left_xlim = (3249, 5327)
right_xlim = (9804, 13563)

JD0 = np.datetime64('1995-10-09T12:00')


def jd_of(datestr):
    return (np.datetime64(datestr) - JD0) / np.timedelta64(1, 'D')


def sorted_series(x, y):
    x = np.asarray(x, float)
    y = np.asarray(y, float)
    o = np.argsort(x, kind='stable')
    return x[o], y[o]


def gapped(x, y, gap=45):
    idx = np.where(np.diff(x) > gap)[0] + 1
    return np.insert(x, idx, np.nan), np.insert(y, idx, np.nan)


W, H = 1336, 944
fig = plt.figure(figsize=(W / 100, H / 100), dpi=100)
tops = [33, 249, 465, 681]
ph = 208
lx0, lx1 = 67, 646
rx0, rx1 = 752, 1326


def style_axis(ax, k, xlim, xmajor, xminor, bottom_labels, top_major, top_minor, top_labels):
    ax.set_xlim(*xlim)
    ax.set_ylim(*ylims[k])
    ax.set_yticks(yticks[k])
    ax.set_yticklabels([str(t) for t in yticks[k]])
    for t, lab in zip(yticks[k], ax.get_yticklabels()):
        if t in edge_va[k]:
            lab.set_verticalalignment(edge_va[k][t])
    ax.yaxis.set_minor_locator(MultipleLocator(0.1))
    ax.xaxis.set_major_locator(FixedLocator(xmajor))
    ax.xaxis.set_minor_locator(MultipleLocator(xminor))
    ax.tick_params(which='both', direction='in', top=False, right=True, labelsize=14, pad=6)
    ax.tick_params(which='major', length=9, width=1.0)
    ax.tick_params(which='minor', length=4.5, width=0.8)
    if bottom_labels is None:
        ax.xaxis.set_major_formatter(NullFormatter())
    else:
        ax.xaxis.set_major_formatter(FixedFormatter(bottom_labels))
    for s in ax.spines.values():
        s.set_linewidth(1.0)
        s.set_color('#333333')
    tw = ax.twiny()
    tw.set_xlim(*xlim)
    tw.xaxis.set_major_locator(FixedLocator(top_major))
    tw.xaxis.set_minor_locator(FixedLocator(top_minor))
    tw.tick_params(which='both', direction='in', labelsize=14, pad=5)
    tw.tick_params(which='major', length=9, width=1.0)
    tw.tick_params(which='minor', length=4.5, width=0.8)
    if top_labels is None:
        tw.xaxis.set_major_formatter(NullFormatter())
    else:
        tw.xaxis.set_major_formatter(FixedFormatter(top_labels))
    for s in tw.spines.values():
        s.set_visible(False)


left_years = list(range(2005, 2011))
left_year_jd = [jd_of('%d-01-01T00:00' % y) for y in left_years]
left_months = [jd_of('%04d-%02d-01T00:00' % (y, m)) for y in range(2004, 2011) for m in range(1, 13)]
right_years = list(range(2024, 2033, 2))
right_year_jd = [jd_of('%d-01-01T00:00' % y) for y in right_years]
right_quarters = [jd_of('%d-%02d-01T00:00' % (y, m)) for y in range(2022, 2035) for m in (1, 4, 7, 10)]

for k in range(4):
    top = tops[k]
    ox, oy = sorted_series(list(obs_jd) + list(obs2_jd), list(observations[k]) + list(observations2[k]))
    mx, my = sorted_series(model_jd, models[k])

    # ---- left panel
    axl = fig.add_axes([lx0 / W, 1 - (top + ph) / H, (lx1 - lx0) / W, ph / H])
    good = ~np.isnan(oy)
    xg, yg = gapped(ox[good], oy[good])
    axl.plot(xg, yg, '-', color='#b0b0b0', lw=1.0, zorder=1)
    axl.plot(mx, my, '-', color='#ff0000', lw=2.2, zorder=1.5)
    axl.plot(ox, oy, 'o', ms=6.5, mfc='none', mec='black', mew=1.3, zorder=2)
    axl.plot(mx, my, 'o', ms=3.4, color='#ee0000', mew=0, zorder=3)
    style_axis(axl, k, left_xlim, [3500, 4000, 4500, 5000], 100,
               ['3500', '4000', '4500', '5000'] if k == 3 else None,
               left_year_jd, left_months, [str(y) for y in left_years] if k == 0 else None)
    axl.set_ylabel(left_names[k], fontsize=15, style='italic', labelpad=3)
    if k == 3:
        axl.set_xlabel('Julian Date - 2450000', fontsize=14, labelpad=4)

    # ---- right panel
    axr = fig.add_axes([rx0 / W, 1 - (top + ph) / H, (rx1 - rx0) / W, ph / H])
    axr.plot(ox + shift_days, oy, 'o', ms=7, mfc='none', mec='#9a9a9a', mew=1.6, zorder=1)
    gx, gy = greens[k]
    axr.plot(gx, gy, '+', ms=6.5, mew=1.8, color='#2ee82e', zorder=2)
    bx, by = blues[k]
    axr.plot(bx, by, 'D', ms=4.2, mfc='#6f6fff', mec='#0a0ad0', mew=1.5, zorder=3)
    style_axis(axr, k, right_xlim, [10000, 11000, 12000, 13000], 200,
               [r'1.0$\times$10$^4$', r'1.1$\times$10$^4$', r'1.2$\times$10$^4$', r'1.3$\times$10$^4$'] if k == 3 else None,
               right_year_jd, right_quarters, [str(y) for y in right_years] if k == 0 else None)
    b, n = right_names[k]
    axr.set_ylabel('$%s$ = $%s$' % (b, n), fontsize=15, labelpad=4)
    if k == 3:
        axr.set_xlabel('Julian Date-2450000', fontsize=14, labelpad=4)

fig.savefig('out.png', dpi=100)
